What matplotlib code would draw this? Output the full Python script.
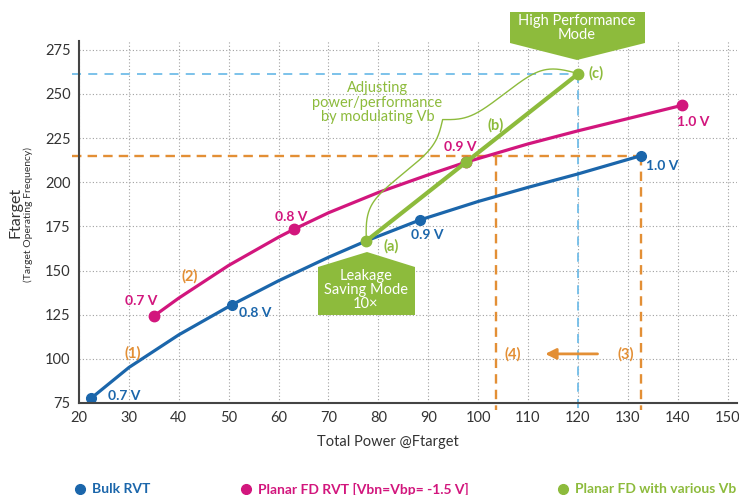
import numpy as np
import matplotlib
matplotlib.use("Agg")
import matplotlib.pyplot as plt
from matplotlib.patches import Polygon
from matplotlib.lines import Line2D

plt.rcParams['font.family'] = ['Lato', 'DejaVu Sans']

# colours
BLUE = '#1b66ab'
MAGENTA = '#d2167d'
GREEN = '#8dbb3c'
ORANGE = '#e38f35'
LIGHTBLUE = '#72bde8'

# Bulk RVT: curve trace, plus the voltage points
bulk_x = [22.4, 30, 40, 50.7, 60, 70, 77.6, 88.4, 100, 110, 120, 132.6]
bulk_y = [77.6, 95.1, 113.6, 130.7, 144.2, 157.5, 166.8, 178.7, 189.1, 197.1, 204.7, 215]
bulk_pts_x = [22.4, 50.7, 88.4, 132.6]
bulk_pts_y = [77.6, 130.7, 178.7, 215]
bulk_volts = ['0.7 V', '0.8 V', '0.9 V', '1.0 V']

# Planar FD RVT [Vbn=Vbp=-1.5 V]
fd_x = [35.1, 40, 50, 60, 63.1, 70, 80, 90, 97.6, 110, 120, 140.8]
fd_y = [124.4, 134.4, 152.9, 168.9, 173.4, 182.7, 194.2, 204.2, 211.4, 221.7, 229.1, 243.5]
fd_pts_x = [35.1, 63.1, 97.6, 140.8]
fd_pts_y = [124.4, 173.4, 211.4, 243.5]
fd_volts = ['0.7 V', '0.8 V', '0.9 V', '1.0 V']

# Planar FD with various Vb: (a), (b), (c)
vb_x = [77.6, 97.6, 120.1]
vb_y = [166.8, 211.4, 261.5]
vb_names = ['(a)', '(b)', '(c)']

# reference levels for the dashed guides
f_target = 215        # 1.0 V bulk frequency
f_high = 261.5        # high performance frequency
p_fd = 103.5          # FD power at f_target
p_bulk = 132.7        # bulk power at f_target
p_high = 120          # power at high performance point

fig = plt.figure(figsize=(7.39, 4.95), dpi=100)
ax = fig.add_axes([0.1069, 0.1859, 0.8904, 0.7313])
ax.set_xlim(20, 151.9)
ax.set_ylim(75, 280)
ax.set_xticks(np.arange(20, 151, 10))
ax.set_yticks(np.arange(75, 276, 25))
ax.grid(True, linestyle=(0, (1, 2)), color='#a0a0a0', linewidth=0.8)
ax.set_axisbelow(True)
for s in ['top', 'right']:
    ax.spines[s].set_visible(False)
for s in ['left', 'bottom']:
    ax.spines[s].set_color('#444444')
    ax.spines[s].set_linewidth(1.5)
ax.tick_params(length=0, labelsize=10.5, labelcolor='#333333', pad=6)

# dashed guides
ax.plot([18.5, p_high], [f_high, f_high], color=LIGHTBLUE, lw=1.3, dashes=(5, 4), clip_on=False)
ax.plot([p_high, p_high], [f_high, 71], color=LIGHTBLUE, lw=1.3, dashes=(5, 4), clip_on=False)
ax.plot([18.5, p_bulk], [f_target, f_target], color=ORANGE, lw=1.7, dashes=(4, 2.6), clip_on=False)
ax.plot([p_fd, p_fd], [f_target, 71], color=ORANGE, lw=1.7, dashes=(4, 2.6), clip_on=False)
ax.plot([p_bulk, p_bulk], [f_target, 71], color=ORANGE, lw=1.7, dashes=(4, 2.6), clip_on=False)

# curves
ax.plot(bulk_x, bulk_y, color=BLUE, lw=2.3, solid_capstyle='round', solid_joinstyle='round')
ax.plot(bulk_pts_x, bulk_pts_y, 'o', color=BLUE, ms=7)
ax.plot(fd_x, fd_y, color=MAGENTA, lw=2.3, solid_capstyle='round', solid_joinstyle='round')
ax.plot(fd_pts_x, fd_pts_y, 'o', color=MAGENTA, ms=7.5)
ax.plot(vb_x, vb_y, color=GREEN, lw=3, solid_capstyle='round')
ax.plot(vb_x, vb_y, 'o', color=GREEN, ms=7.5)

# voltage labels
bulk_lab = [(29.1, 79), (55.4, 125.8), (89.8, 170.2), (136.9, 209.2)]
for (tx, ty), t in zip(bulk_lab, bulk_volts):
    ax.text(tx, ty, t, color=BLUE, fontsize=10, fontweight='bold', ha='center', va='center')
fd_lab = [(32.5, 133), (62.5, 180.6), (96.4, 220.2), (143.2, 234.4)]
for (tx, ty), t in zip(fd_lab, fd_volts):
    ax.text(tx, ty, t, color=MAGENTA, fontsize=10, fontweight='bold', ha='center', va='center')
vb_lab = [(82.6, 163.6), (103.6, 232.4), (123.7, 261.9)]
for (tx, ty), t in zip(vb_lab, vb_names):
    ax.text(tx, ty, t, color=GREEN, fontsize=10.5, fontweight='bold', ha='center', va='center')

# step numbers and arrow
for tx, ty, t in [(30.8, 103.2, '(1)'), (42.2, 146.6, '(2)'), (129.6, 102.8, '(3)'), (107, 102.8, '(4)')]:
    ax.text(tx, ty, t, color=ORANGE, fontsize=10.5, fontweight='bold', ha='center', va='center')
ax.annotate('', xy=(112.9, 102.8), xytext=(124.5, 102.8),
            arrowprops=dict(arrowstyle='-|>', color=ORANGE, lw=2, mutation_scale=16))

ax.text(79.8, 245, 'Adjusting\npower/performance\nby modulating Vb', color=GREEN,
        fontsize=10.5, ha='center', va='center', linespacing=1.05)

# curly brace between (a) and (c), built in pixel space
fig.canvas.draw()
pa = ax.transData.transform((vb_x[0], vb_y[0]))
pc = ax.transData.transform((vb_x[-1], vb_y[-1]))
d = pc - pa
L = np.hypot(*d)
u = d / L
n = np.array([-u[1], u[0]])
s = np.linspace(0, L / 2, 200)
beta = 0.09
h = 30 * (2 / (1 + np.exp(-beta * s)) - 1) + 18 * 2 / (1 + np.exp(-beta * (s - L / 2)))
h = h - h[0]
s_all = np.concatenate([s, L - s[::-1]])
h_all = np.concatenate([h, h[::-1]])
pts = pa + np.outer(s_all, u) + np.outer(h_all, n)
pts_d = ax.transData.inverted().transform(pts)
ax.plot(pts_d[:, 0], pts_d[:, 1], color=GREEN, lw=1.0)

# callout boxes (pixel coords from top-left converted to figure fraction)
W, H = 739, 495
def to_fig(p):
    return [(x / W, 1 - y / H) for x, y in p]

hp = Polygon(to_fig([(510, 12), (645, 12), (645, 43), (577, 60), (510, 43)]),
             closed=True, facecolor=GREEN, edgecolor='none', transform=fig.transFigure)
fig.add_artist(hp)
fig.text(577 / W, 1 - 28 / H, 'High Performance\nMode', color='white', fontsize=10.5,
         ha='center', va='center', linespacing=1.0)

lk = Polygon(to_fig([(318, 267), (367, 252), (415, 267), (415, 315), (318, 315)]),
             closed=True, facecolor=GREEN, edgecolor='none', transform=fig.transFigure)
fig.add_artist(lk)
fig.text(366 / W, 1 - 290 / H, 'Leakage\nSaving Mode\n10\u00d7', color='white', fontsize=10.5,
         ha='center', va='center', linespacing=1.0)

# axis titles
fig.text(388 / W, 1 - 442 / H, 'Total Power @Ftarget', fontsize=10.5, color='#333333',
         ha='center', va='center')
fig.text(15 / W, 1 - 212 / H, 'Ftarget', fontsize=11.5, color='#333333', rotation=90,
         ha='center', va='center')
fig.text(28 / W, 1 - 214 / H, '(Target Operating Frequency)', fontsize=7.5, color='#333333',
         rotation=90, ha='center', va='center')

# legend row
legend_items = [(80, 'Bulk RVT', BLUE), (246, 'Planar FD RVT [Vbn=Vbp= -1.5 V]', MAGENTA),
                (563, 'Planar FD with various Vb', GREEN)]
for x0, lab, col in legend_items:
    fig.add_artist(Line2D([x0 / W], [1 - 489 / H], marker='o', ms=7, color=col,
                          transform=fig.transFigure))
    fig.text((x0 + 12) / W, 1 - 489 / H, lab, color=col, fontsize=10, fontweight='bold',
             ha='left', va='center')

fig.savefig('out.png', dpi=100)
